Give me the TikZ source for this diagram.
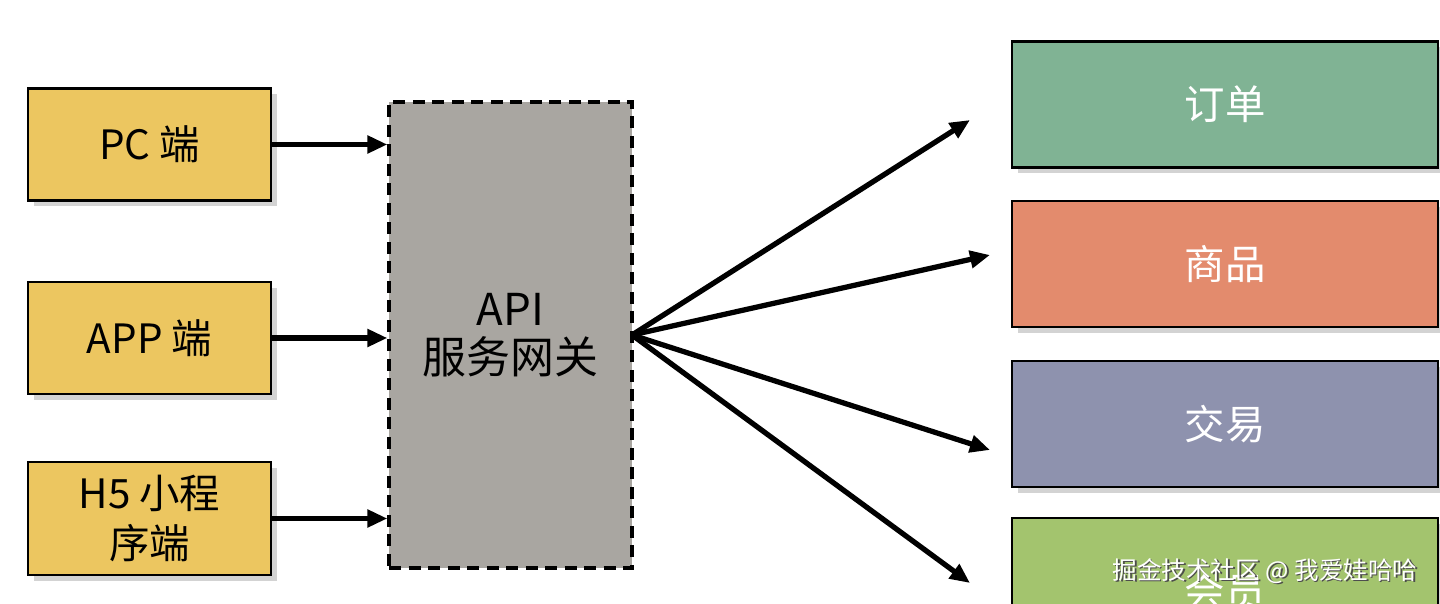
\documentclass[tikz,border=0pt]{standalone}
\usepackage{fontspec}
\newfontfamily\cjk{Noto Sans CJK SC}
\usetikzlibrary{arrows.meta,shadows}
\definecolor{clientyellow}{RGB}{236,198,96}
\definecolor{gatewaygrey}{RGB}{169,166,161}
\definecolor{ordergreen}{RGB}{128,179,148}
\definecolor{goodsred}{RGB}{227,139,109}
\definecolor{tradeblue}{RGB}{142,146,174}
\definecolor{memberlime}{RGB}{163,196,110}
\begin{document}
\begin{tikzpicture}[x=0.1mm, y=-0.1mm, font=\cjk\fontsize{11.5}{15}\selectfont,
	client/.style={draw, line width=0.6pt, fill=clientyellow, minimum width=24.3mm, minimum height=11.2mm, align=center, drop shadow={opacity=0.35, shadow xshift=0.6mm, shadow yshift=-0.6mm}},
	service/.style={draw, line width=0.6pt, minimum width=42.6mm, minimum height=12.6mm, text=white, drop shadow={opacity=0.35, shadow xshift=0.6mm, shadow yshift=-0.6mm}},
	link/.style={line width=1.5pt, -{Triangle[length=2mm, width=1.7mm]}}]
	\useasboundingbox (0,0) rectangle (1440,604);
	\clip (0,0) rectangle (1440,604);
	% clients
	\node[client] (pc) at (149.5,144.5) {PC 端};
	\node[client] (app) at (149.5,338) {APP 端};
	\node[client, minimum height=11.3mm] (h5) at (149.5,518.5) {H5 小程\\[-1pt]序端};
	% gateway
	\node[draw, line width=0.9pt, dash pattern=on 1.2mm off 0.75mm, fill=gatewaygrey, minimum width=24.3mm, minimum height=46.6mm, align=center, font=\cjk\fontsize{12.5}{13.5}\selectfont] (gw) at (510.5,335) {API\\服务网关};
	% services
	\node[service, fill=ordergreen] (order) at (1225,104.5) {订单};
	\node[service, fill=goodsred] (goods) at (1225,264) {商品};
	\node[service, fill=tradeblue] (trade) at (1225,424) {交易};
	\node[service, fill=memberlime, minimum height=14mm] (member) at (1225,588) {};
	\node[text=white] (memberlabel) at (1225,592) {会员};
	% arrows
	\draw[link] (pc.east) -- (pc.east -| gw.west);
	\draw[link] (app.east) -- (app.east -| gw.west);
	\draw[link] (h5.east) -- (h5.east -| gw.west);
	\coordinate (hub) at (632,335);
	\coordinate (to1) at (970,120);
	\coordinate (to2) at (990,255);
	\coordinate (to3) at (990,450);
	\coordinate (to4) at (970,583);
	\foreach \t in {to1,to2,to3,to4}
		\draw[link] (hub) -- (\t);
	% watermark
	\node[text=black!70, font=\cjk\fontsize{7}{8}\selectfont] (markshadow) at (1266.5,572.5) {掘金技术社区 @ 我爱娃哈哈};
	\node[text=white, font=\cjk\fontsize{7}{8}\selectfont] (mark) at (1265,571) {掘金技术社区 @ 我爱娃哈哈};
\end{tikzpicture}
\end{document}
